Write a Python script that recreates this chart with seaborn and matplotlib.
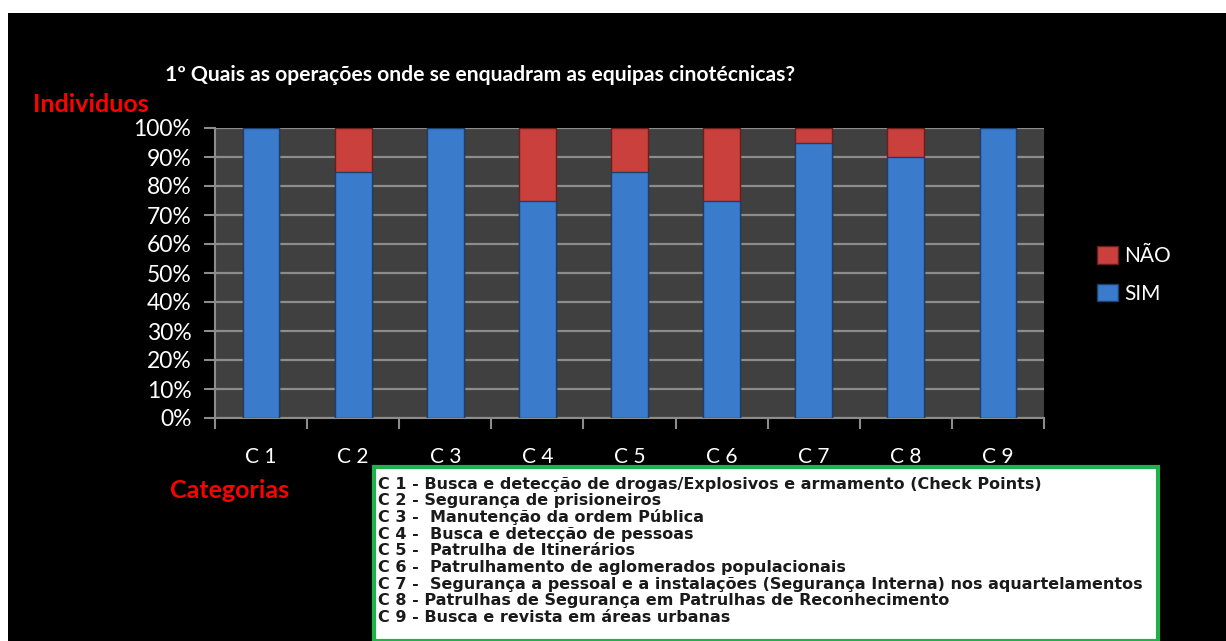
import matplotlib
matplotlib.use("Agg")
import matplotlib.pyplot as plt
from matplotlib.patches import Rectangle, Patch
import numpy as np
import pandas as pd
import seaborn as sns

categories = ["C 1", "C 2", "C 3", "C 4", "C 5", "C 6", "C 7", "C 8", "C 9"]
sim = [100, 85, 100, 75, 85, 75, 95, 90, 100]
nao = [0, 15, 0, 25, 15, 25, 5, 10, 0]
yticks = [0, 10, 20, 30, 40, 50, 60, 70, 80, 90, 100]
ytick_labels = [f"{v}%" for v in yticks]
title = "1º Quais as operações onde se enquadram as equipas cinotécnicas?"
legend_text = [
    "C 1 - Busca e detecção de drogas/Explosivos e armamento (Check Points)",
    "C 2 - Segurança de prisioneiros",
    "C 3 -  Manutenção da ordem Pública",
    "C 4 -  Busca e detecção de pessoas",
    "C 5 -  Patrulha de Itinerários",
    "C 6 -  Patrulhamento de aglomerados populacionais",
    "C 7 -  Segurança a pessoal e a instalações (Segurança Interna) nos aquartelamentos",
    "C 8 - Patrulhas de Segurança em Patrulhas de Reconhecimento",
    "C 9 - Busca e revista em áreas urbanas",
]

sns.set_theme(style="dark")
plt.rcParams['font.family'] = ['Lato', 'DejaVu Sans']

W, H = 1226, 641
fig = plt.figure(figsize=(W / 100, H / 100), dpi=100, facecolor="white")
fig.patches.append(Rectangle((8 / W, 0), 1 - 8 / W, 1 - 13 / H, transform=fig.transFigure,
                             facecolor="black", edgecolor="none", zorder=-10))

ax = fig.add_axes([215 / W, 1 - 418 / H, (1044 - 215) / W, (418 - 128) / H])
ax.set_facecolor("#404040")

df = pd.DataFrame({"cat": categories, "SIM": sim, "NAO": nao})
df["TOTAL"] = df["SIM"] + df["NAO"]

red = "#c9403c"
blue = "#3a7bcc"
sns.barplot(data=df, x="cat", y="TOTAL", color=red, width=0.4, ax=ax,
            edgecolor="#6a1e1c", linewidth=1, saturation=1, zorder=3)
sns.barplot(data=df, x="cat", y="SIM", color=blue, width=0.4, ax=ax,
            edgecolor="#1d3f6e", linewidth=1, saturation=1, zorder=4)

ax.set_xlim(-0.5, len(categories) - 0.5)
ax.set_ylim(0, 100)
ax.set_yticks(yticks)
ax.set_yticklabels(ytick_labels, color="white", fontsize=16.5)
ax.yaxis.grid(True, color="#8c8c8c", linewidth=1.6, zorder=1)
ax.xaxis.grid(False)
ax.set_axisbelow(True)

ax.set_xticks(range(len(categories)))
ax.set_xticklabels(categories, color="white", fontsize=15)
ax.tick_params(axis="x", which="major", length=0, pad=21)
ax.set_xticks(np.arange(-0.5, len(categories), 1), minor=True)
ax.tick_params(axis="x", which="minor", length=8, width=1.5, color="#8c8c8c", bottom=True, direction="out")
ax.tick_params(axis="y", which="major", length=8, width=1.5, color="#8c8c8c", left=True, direction="out", pad=9)

for s in ["top", "right"]:
    ax.spines[s].set_visible(False)
for s in ["left", "bottom"]:
    ax.spines[s].set_visible(True)
    ax.spines[s].set_color("#8c8c8c")
    ax.spines[s].set_linewidth(1.5)
ax.set_xlabel("")
ax.set_ylabel("")

handles = [Patch(facecolor=red, edgecolor="#6a1e1c", label="NÃO"),
           Patch(facecolor=blue, edgecolor="#1d3f6e", label="SIM")]
leg = fig.legend(handles=handles, loc="center left", bbox_to_anchor=(1078 / W, 1 - 275 / H),
                 frameon=False, fontsize=15, labelcolor="white", handlelength=1.0,
                 handleheight=0.9, handletextpad=0.3, labelspacing=0.85)

fig.text(480 / W, 1 - 75 / H, title, color="white", fontsize=15.2, fontweight="bold",
         ha="center", va="center")
fig.text(33 / W, 1 - 105 / H, "Individuos", color="red", fontsize=18, fontweight="bold",
         ha="left", va="center")
fig.text(170 / W, 1 - 490 / H, "Categorias", color="red", fontsize=18, fontweight="bold",
         ha="left", va="center")

fig.patches.append(Rectangle((374 / W, 0), (1158 - 374) / W, (641 - 467) / H,
                             transform=fig.transFigure, facecolor="white",
                             edgecolor="#1fb24a", linewidth=3, zorder=2))
for i, line in enumerate(legend_text):
    fig.text(378 / W, 1 - (484 + i * 16.7) / H, line, color="#1a1a1a", fontsize=11.5,
             fontweight="bold", family=["DejaVu Sans"],
             ha="left", va="center", zorder=3)

fig.savefig("out.png", dpi=100, facecolor=fig.get_facecolor())
